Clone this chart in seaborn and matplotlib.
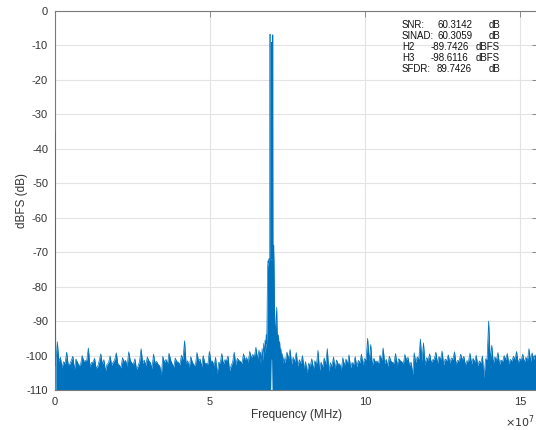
import numpy as np
import pandas as pd
import matplotlib
matplotlib.use("Agg")
import matplotlib.pyplot as plt
import seaborn as sns
from matplotlib.ticker import FuncFormatter, FixedLocator

# ---------------- data ----------------
dc_db = -35.0                      # DC bin at 0 Hz

# noise bins of 1 MHz; floor value at bin+0.25 MHz, spike value at bin+0.75 MHz
left_start_bin = 0
left_floor_db = [
    -103.0, -101.7, -103.5, -102.3, -102.7, -101.4, -104.1, -102.0, -102.5, -101.6,
    -101.3, -103.2, -101.9, -103.7, -101.5, -102.6, -104.5, -102.1, -102.8, -101.2,
    -102.4, -103.6, -101.8, -103.1, -101.4, -102.5, -104.0, -101.7, -102.3, -102.9,
    -101.5, -103.8, -102.2, -102.6, -105.7, -102.0, -102.5, -101.3, -103.4, -101.8,
    -102.7, -101.1, -102.4, -103.5, -101.9, -102.8, -101.6, -103.3, -102.1, -102.5,
    -101.7, -103.0, -105.3, -102.2, -102.6, -101.5, -104.4, -101.9, -102.7, -101.4,
    -102.3, -101.2, -102.0, -100.7, -100.3, -101.0]
left_peak_db = [
    -96.0, -100.5, -101.8, -99.0, -102.5, -100.2, -101.0, -103.0, -100.0, -101.5,
    -97.8, -102.0, -100.8, -103.2, -99.5, -101.2, -102.6, -100.1, -101.9, -99.2,
    -102.8, -100.6, -101.4, -98.9, -102.2, -100.9, -103.1, -98.0, -101.3, -100.4,
    -102.1, -99.6, -101.7, -103.0, -100.2, -101.1, -99.3, -102.4, -100.7, -101.9,
    -99.9, -95.7, -101.5, -100.3, -102.7, -99.1, -101.0, -100.0, -102.3, -98.8,
    -101.6, -100.5, -102.0, -99.4, -101.2, -100.1, -102.9, -99.0, -100.8, -101.7,
    -99.5, -100.6, -98.8, -99.7, -97.6, -98.4]

# fundamental region, finer resolution (MHz, dBFS)
sig_mhz = [66.0, 66.25, 66.5, 66.75, 67.0, 67.25, 67.5, 67.7, 67.9, 68.05,
           68.2, 68.3, 68.4, 68.5, 68.65, 68.8, 68.95, 69.1, 69.25, 69.3,
           69.35, 69.5, 69.7, 69.75, 69.8, 69.95, 70.1, 70.2, 70.25, 70.4,
           70.5, 70.6, 70.7, 70.85, 71.0, 71.2, 71.45, 71.6, 71.8, 72.0,
           72.2, 72.4, 72.6, 72.8, 73.0, 73.25, 73.5, 73.75, 74.0]
sig_db = [-102.0, -99.0, -102.5, -98.0, -101.5, -96.5, -100.0, -95.5, -98.0, -94.0,
          -96.5, -92.0, -84.0, -74.5, -72.5, -73.0, -71.8, -72.4, -72.0, -6.7,
          -71.5, -72.2, -71.6, -9.1, -71.8, -72.3, -71.7, -6.9, -72.0, -73.0,
          -68.0, -75.0, -84.0, -90.5, -92.5, -91.0, -86.0, -93.5, -95.0, -94.0,
          -97.0, -96.0, -99.5, -98.0, -101.0, -99.5, -102.5, -100.5, -102.0]
notch_mhz = (69.55, 69.95)
notch_floor_db = -101.0

right_start_bin = 74
right_floor_db = [
    -101.5, -101.0, -102.5, -101.8, -103.1, -102.3, -103.7, -105.0, -103.2, -104.0,
    -102.8, -104.3, -103.4, -102.6, -104.5, -103.1, -103.8, -102.5, -104.2, -102.9,
    -102.4, -103.5, -102.7, -103.3, -102.1, -102.6, -101.3, -101.7, -103.0, -101.9,
    -102.5, -101.4, -102.3, -103.1, -101.6, -102.2, -102.8, -101.5, -102.4, -101.3,
    -102.9, -105.5, -102.0, -101.1, -101.7, -102.6, -101.4, -102.1, -101.0, -102.3,
    -101.2, -102.7, -101.5, -102.2, -101.1, -102.5, -101.6, -101.3, -102.8, -101.7,
    -102.4, -101.9, -103.0, -102.1, -106.5, -101.0, -101.5, -102.3, -101.4, -102.6,
    -101.8, -101.2, -102.4, -101.6, -101.1, -102.2, -101.3, -102.0, -101.4, -101.7,
    -101.1, -101.9]
right_peak_db = [
    -99.0, -98.2, -100.5, -99.1, -101.2, -100.0, -101.8, -102.2, -100.9, -101.5,
    -98.5, -101.9, -100.7, -98.0, -102.1, -100.4, -101.3, -102.4, -100.6, -101.0,
    -99.8, -102.0, -100.3, -101.4, -99.6, -100.9, -95.0, -96.8, -100.8, -101.6,
    -99.9, -97.8, -101.1, -100.2, -102.0, -99.4, -100.9, -101.8, -99.7, -100.5,
    -101.9, -99.2, -100.4, -95.2, -96.3, -100.6, -99.5, -101.2, -99.0, -100.3,
    -98.7, -101.0, -99.8, -100.7, -98.9, -101.4, -99.6, -100.2, -101.5, -99.3,
    -100.8, -99.9, -101.6, -100.1, -101.0, -90.0, -97.0, -100.4, -99.1, -101.3,
    -100.0, -99.4, -101.1, -100.2, -98.8, -100.9, -99.6, -100.5, -98.0, -99.2,
    -99.8, -100.2]

y_ticks = [0, -10, -20, -30, -40, -50, -60, -70, -80, -90, -100, -110]
x_ticks_hz = [0, 5e7, 10e7, 15e7]
x_exponent = 7
x_max_hz = 15.55e7

metric_labels = ["SNR:", "SINAD:", "H2", "H3", "SFDR:"]
metric_values = ["60.3142", "60.3059", "-89.7426", "-98.6116", "89.7426"]
metric_units = ["dB", "dB", "dBFS", "dBFS", "dB"]

# ---------------- assemble ----------------
def interleave(start_bin, floors, peaks):
    bins = start_bin + np.arange(len(floors))
    x = np.empty(2 * len(bins))
    y = np.empty(2 * len(bins))
    x[0::2] = bins + 0.25
    x[1::2] = bins + 0.75
    y[0::2] = floors
    y[1::2] = peaks
    return x, y

lx, ly = interleave(left_start_bin, left_floor_db, left_peak_db)
rx, ry = interleave(right_start_bin, right_floor_db, right_peak_db)

trace_mhz = np.concatenate(([0.0], lx, sig_mhz, rx))
trace_db = np.concatenate(([dc_db], ly, sig_db, ry))
df = pd.DataFrame({"freq_hz": trace_mhz * 1e6, "dbfs": trace_db})

fill_mhz = trace_mhz[1:]
fill_db = trace_db[1:]
fill_low = np.full(fill_mhz.shape, -110.0)
in_notch = (fill_mhz > notch_mhz[0]) & (fill_mhz < notch_mhz[1])
fill_low[in_notch] = notch_floor_db

# ---------------- plot ----------------
sns.set_style("white")
plt.rcParams["font.family"] = ["Liberation Sans", "DejaVu Sans"]
plt.rcParams["axes.unicode_minus"] = False

W, H = 536, 430
fig = plt.figure(figsize=(W / 100, H / 100), dpi=100)
ax = fig.add_axes([55 / W, 1 - 390 / H, (537.5 - 55) / W, (390 - 11) / H])

line_color = "#0072BD"
ax.fill_between(fill_mhz * 1e6, fill_db, fill_low, color=line_color, linewidth=0, zorder=2)
sns.lineplot(data=df, x="freq_hz", y="dbfs", sort=False, estimator=None,
             color=line_color, linewidth=0.5, ax=ax, zorder=3)

ax.set_xlim(0, x_max_hz)
ax.set_ylim(-110, 0)
ax.xaxis.set_major_locator(FixedLocator(x_ticks_hz))
ax.yaxis.set_major_locator(FixedLocator(y_ticks))
ax.xaxis.set_major_formatter(FuncFormatter(lambda v, p: f"{v / 10 ** x_exponent:g}"))

ax.grid(True, color="#e3e3e3", linewidth=0.8, zorder=0)
ax.set_axisbelow(True)
for s in ax.spines.values():
    s.set_visible(True)
    s.set_color("#7a7a7a")
    s.set_linewidth(0.8)
ax.tick_params(direction="in", length=4, width=0.6, color="#7a7a7a",
               top=True, right=True, labelsize=8, labelcolor="#333333", pad=5)

ax.set_xlabel("Frequency (MHz)", fontsize=8.5, color="#333333")
ax.set_ylabel("dBFS (dB)", fontsize=8.5, color="#333333")
ax.xaxis.set_label_coords(0.5, -0.05)
ax.yaxis.set_label_coords(-0.055, 0.5)

fig.text(535 / W, 1 - 422 / H, r"$\times10^{%d}$" % x_exponent, fontsize=8,
         color="#333333", ha="right", va="center")

row_y = [25, 36, 47, 58, 69]
for lab, val, unit, y in zip(metric_labels, metric_values, metric_units, row_y):
    fy = 1 - y / H
    fig.text(402 / W, fy, lab, fontsize=7, color="#111111", va="center", ha="left")
    vx = 431 if val.startswith("-") else 437
    ux = 476 if unit == "dBFS" else 489
    fig.text(vx / W, fy, val, fontsize=7, color="#111111", va="center", ha="left")
    fig.text(ux / W, fy, unit, fontsize=7, color="#111111", va="center", ha="left")

fig.savefig("out.png", dpi=100)
